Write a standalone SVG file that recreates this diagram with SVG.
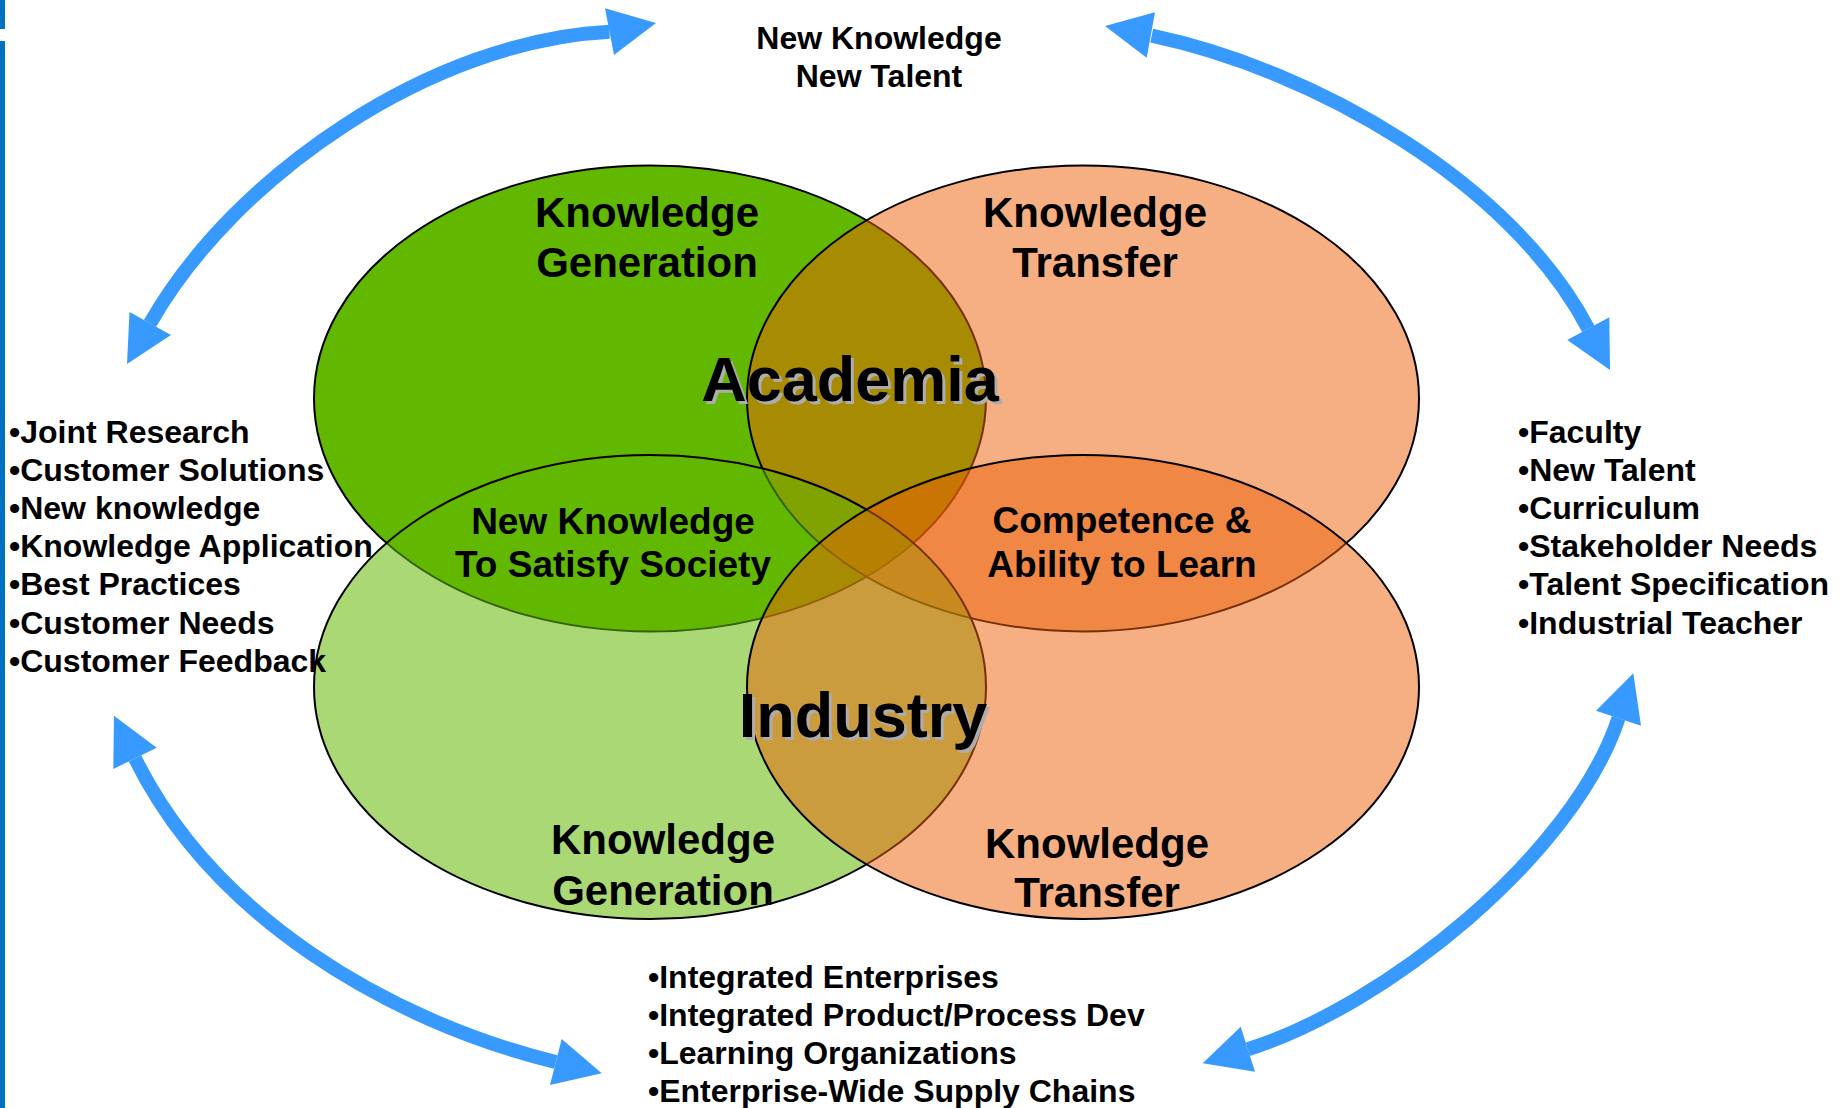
<svg xmlns="http://www.w3.org/2000/svg" width="1843" height="1108" viewBox="0 0 1843 1108">
<style>
text{font-family:"Liberation Sans",Arial,sans-serif;font-weight:bold;fill:#000}
.t42{font-size:42px;text-anchor:middle}
.t37{font-size:37px;text-anchor:middle}
.t32{font-size:32px}
.tc{text-anchor:middle}
.big{font-size:63px;text-anchor:middle}
.shadow{fill:#ADADAD}
.ell{stroke:#000;stroke-width:2}
.band{fill:none;stroke:#389AFE;stroke-width:14;stroke-linecap:butt}
.head{fill:#389AFE}
</style>
<rect width="1843" height="1108" fill="#fff"/>
<g id="edge-bar" fill="#0070C0">
<rect x="0" y="0" width="5" height="29"/>
<rect x="0" y="41" width="5" height="1067"/>
</g>
<g id="ellipses">
<g id="academia-generation"><ellipse class="ell" cx="650" cy="398.5" rx="336" ry="233" fill="#62B700"/></g>
<g id="academia-transfer"><ellipse class="ell" cx="1083" cy="398.5" rx="336" ry="233" fill="#EB5F05" fill-opacity="0.5"/></g>
<g id="industry-generation"><ellipse class="ell" cx="650" cy="687" rx="336" ry="232" fill="#62B700" fill-opacity="0.54"/></g>
<g id="industry-transfer"><ellipse class="ell" cx="1083" cy="687" rx="336" ry="232" fill="#EB5F05" fill-opacity="0.5"/></g>
</g>
<g id="connectors">
<g id="arrow-top-left">
<path class="band" d="M150,323.5 C235,173.9 433,40.4 609.5,31.7"/>
<polygon class="head" points="127,364 129.5,312 171,335"/>
<polygon class="head" points="656,23 605,8.3 614,55"/>
</g>
<g id="arrow-top-right">
<path class="band" d="M1151.7,35.7 C1314,69.9 1511.1,181.8 1588.3,328.7"/>
<polygon class="head" points="1105,26 1155,12.3 1146.7,57.7"/>
<polygon class="head" points="1610,370 1609.3,317.3 1567.3,340"/>
</g>
<g id="arrow-bottom-left">
<path class="band" d="M135,758.3 C212.4,915.3 385.9,1020.2 555.8,1062"/>
<polygon class="head" points="114,715.7 156.7,747.7 113.3,769"/>
<polygon class="head" points="601.7,1073.3 561.7,1039 550,1085"/>
</g>
<g id="arrow-bottom-right">
<path class="band" d="M1247.8,1049.2 C1385.2,1006.3 1573.4,854.9 1618.5,718.2"/>
<polygon class="head" points="1633.3,673.3 1596,710.7 1641,725.7"/>
<polygon class="head" points="1202.7,1063.3 1240.7,1026.7 1255,1071.7"/>
</g>
</g>
<g id="label-top">
<text class="t32 tc" x="879" y="49">New Knowledge</text>
<text class="t32 tc" x="879" y="87">New Talent</text>
</g>
<g id="label-academia-generation">
<text class="t42" x="647" y="227">Knowledge</text>
<text class="t42" x="647" y="277">Generation</text>
</g>
<g id="label-academia-transfer">
<text class="t42" x="1095" y="227">Knowledge</text>
<text class="t42" x="1095" y="277">Transfer</text>
</g>
<g id="label-industry-generation">
<text class="t42" x="663" y="854">Knowledge</text>
<text class="t42" x="663" y="905">Generation</text>
</g>
<g id="label-industry-transfer">
<text class="t42" x="1097" y="858">Knowledge</text>
<text class="t42" x="1097" y="907">Transfer</text>
</g>
<g id="label-society">
<text class="t37" x="613" y="534">New Knowledge</text>
<text class="t37" x="613" y="577">To Satisfy Society</text>
</g>
<g id="label-competence">
<text class="t37" x="1122" y="533">Competence &amp;</text>
<text class="t37" x="1122" y="577">Ability to Learn</text>
</g>
<g id="label-academia">
<text class="big shadow" x="853" y="404">Academia</text>
<text class="big" x="850" y="401">Academia</text>
</g>
<g id="label-industry">
<text class="big shadow" x="866" y="740">Industry</text>
<text class="big" x="863" y="737">Industry</text>
</g>
<g id="list-left">
<text class="t32" x="9" y="442.5">•Joint Research</text>
<text class="t32" x="9" y="480.7">•Customer Solutions</text>
<text class="t32" x="9" y="518.9">•New knowledge</text>
<text class="t32" x="9" y="557.1">•Knowledge Application</text>
<text class="t32" x="9" y="595.3">•Best Practices</text>
<text class="t32" x="9" y="633.5">•Customer Needs</text>
<text class="t32" x="9" y="671.7">•Customer Feedback</text>
</g>
<g id="list-right">
<text class="t32" x="1518" y="442.5">•Faculty</text>
<text class="t32" x="1518" y="480.7">•New Talent</text>
<text class="t32" x="1518" y="518.9">•Curriculum</text>
<text class="t32" x="1518" y="557.1">•Stakeholder Needs</text>
<text class="t32" x="1518" y="595.3">•Talent Specification</text>
<text class="t32" x="1518" y="633.5">•Industrial Teacher</text>
</g>
<g id="list-bottom">
<text class="t32" x="648" y="987.5">•Integrated Enterprises</text>
<text class="t32" x="648" y="1025.5">•Integrated Product/Process Dev</text>
<text class="t32" x="648" y="1063.5">•Learning Organizations</text>
<text class="t32" x="648" y="1101.5">•Enterprise-Wide Supply Chains</text>
</g>
</svg>
